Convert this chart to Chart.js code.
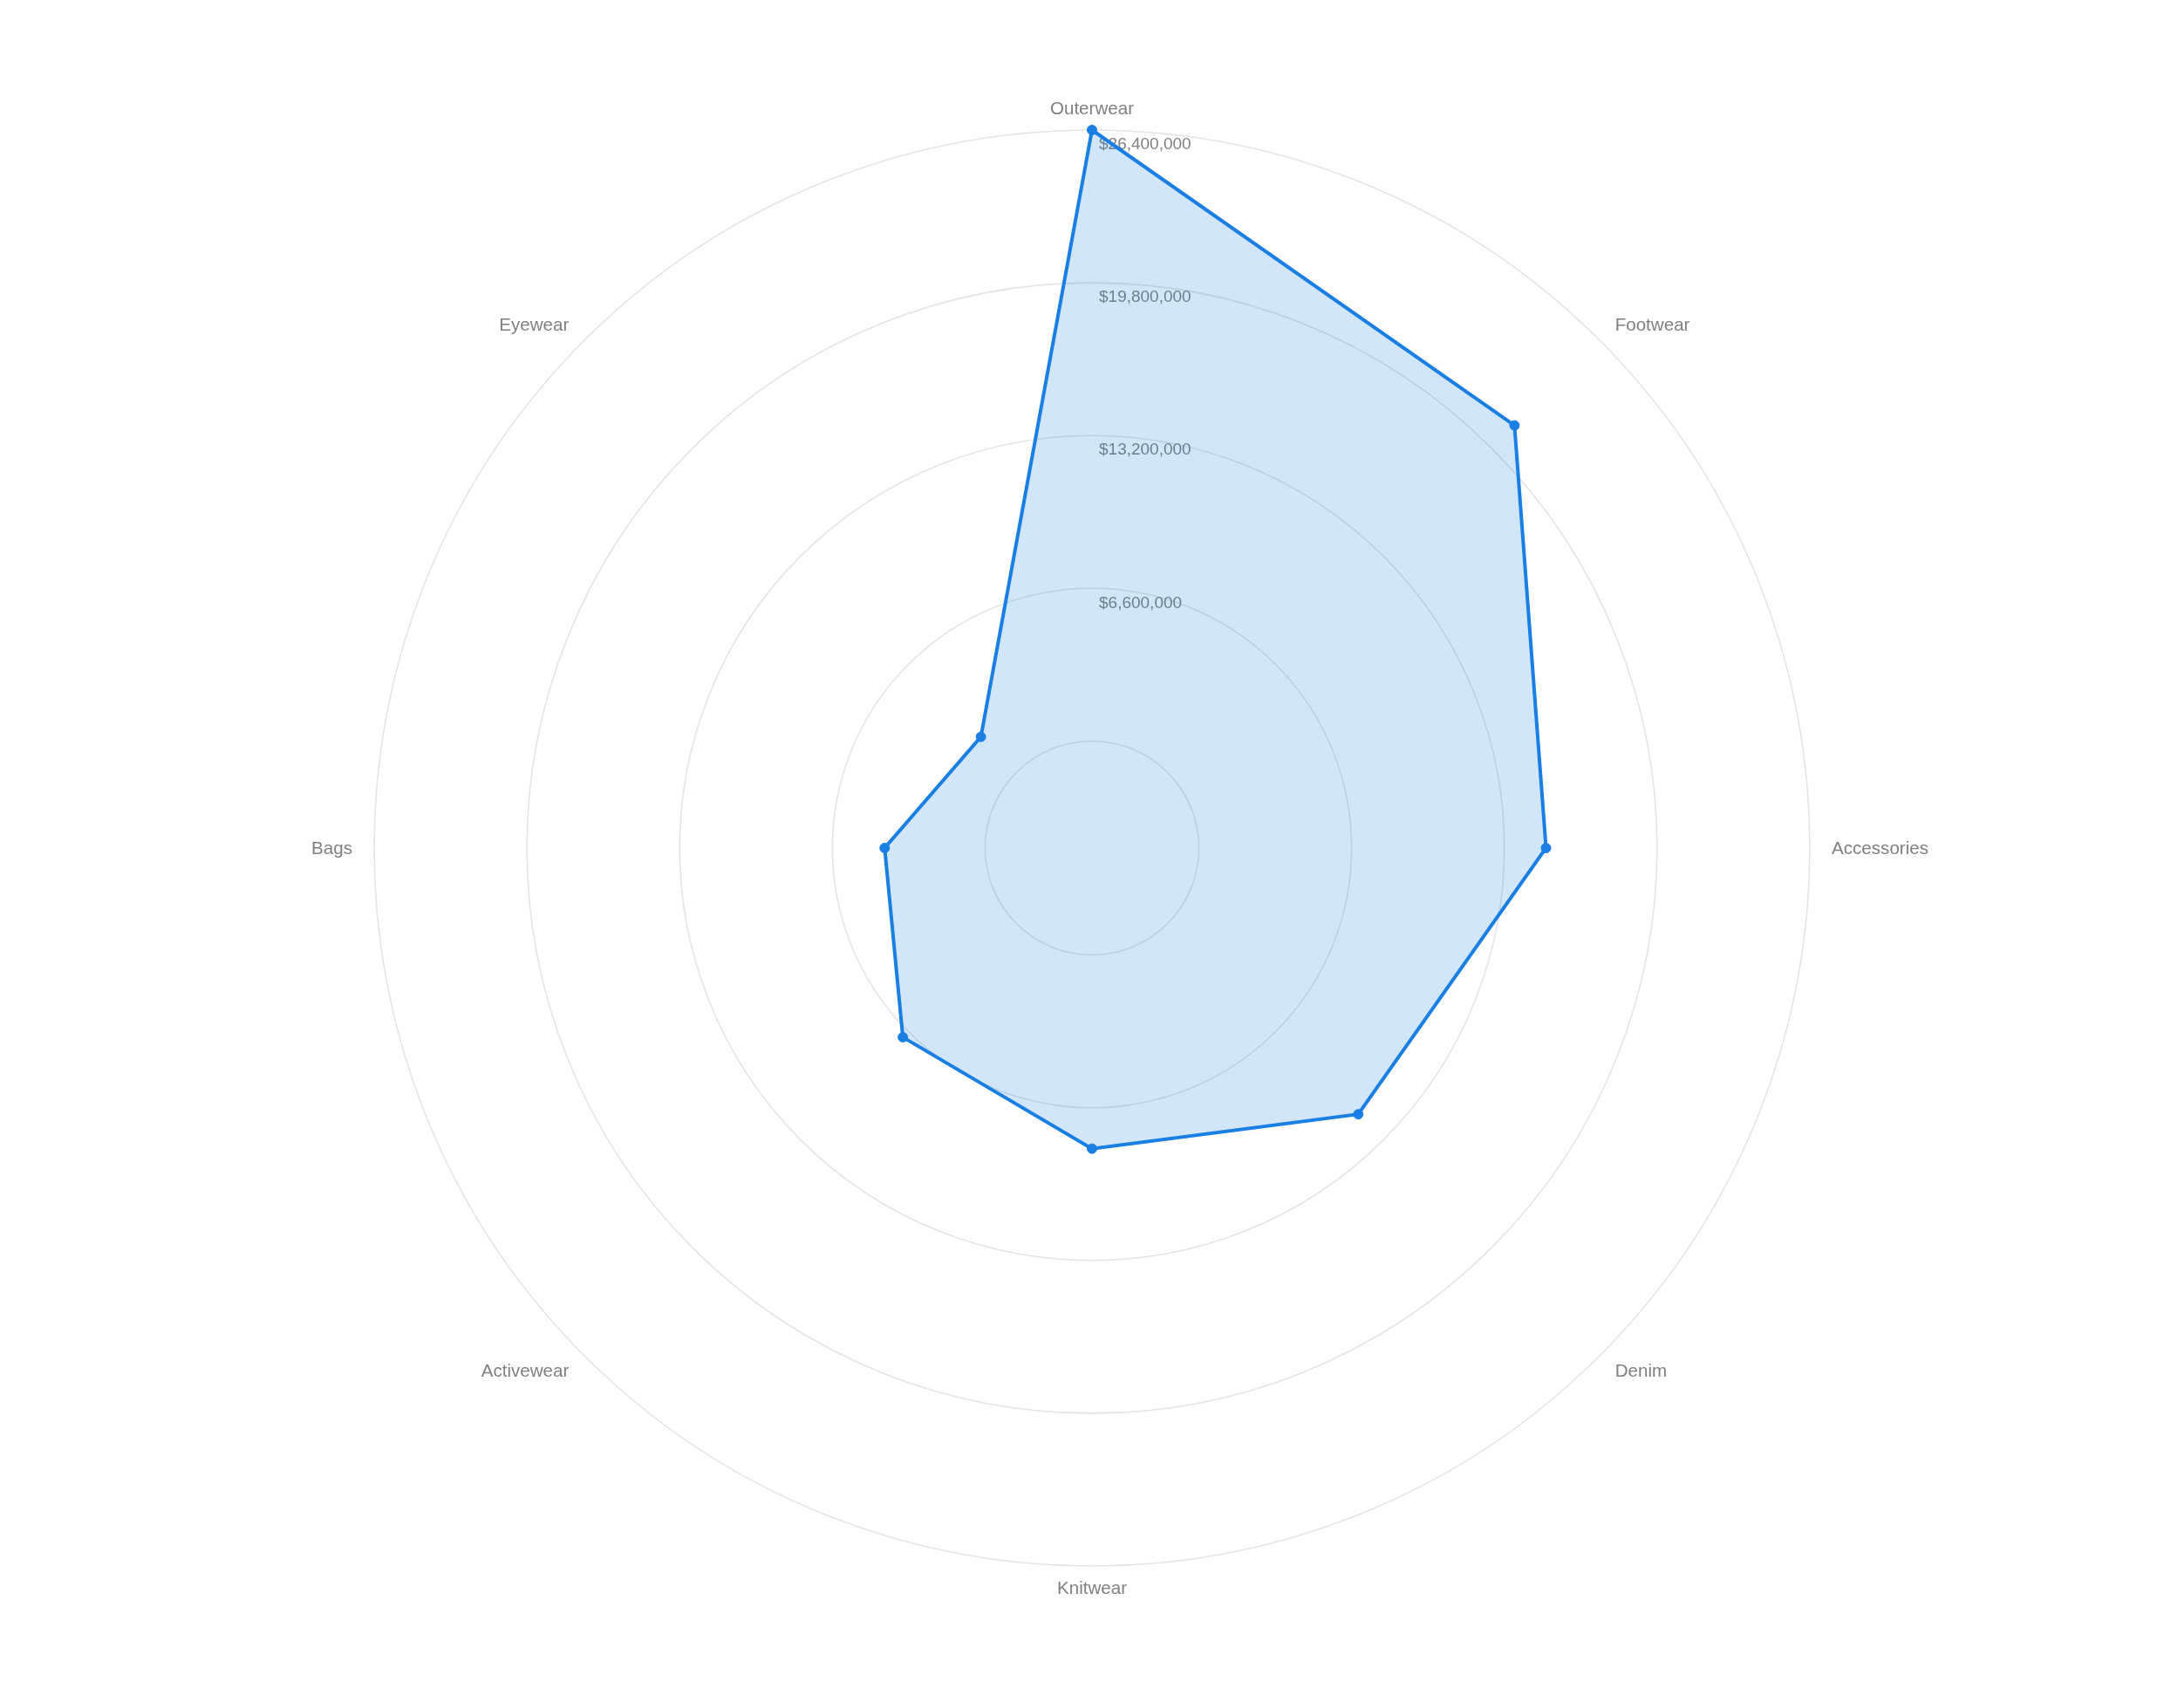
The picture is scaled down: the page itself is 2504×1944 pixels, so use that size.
<!DOCTYPE html>
<html>
<head>
<meta charset="utf-8">
<title>Revenue by category</title>
<script src="https://cdn.jsdelivr.net/npm/chart.js@4"></script>
<style>
  html, body { margin: 0; padding: 0; background: #fff; }
  #wrap { width: 2504px; height: 1944px; }
</style>
</head>
<body>
<div id="wrap"><canvas id="radar" width="2504" height="1944"></canvas></div>
<script>
const categories = ["Outerwear", "Footwear", "Accessories", "Denim", "Knitwear", "Activewear", "Bags", "Eyewear"];
const revenue = [26400000, 21200000, 15000000, 11650000, 8370000, 6940000, 4340000, 2170000];

// radial axis: rings at these values, the centre sits a bit below $0
const tickValues = [0, 6600000, 13200000, 19800000, 26400000];
const scaleMin = -4620000;
const scaleMax = 26400000;

const FONT = "'Liberation Sans', Arial, sans-serif";
const LINE = "#1a7fe5";

const money = v => "$" + Math.round(v).toLocaleString("en-US");

// tick labels sit just right of and below each ring, point labels float outside
const labelPlugin = {
  id: "radarLabels",
  beforeDatasetsDraw(chart) {
    const r = chart.scales.r;
    const ctx = chart.ctx;
    ctx.save();

    ctx.font = "19px " + FONT;
    ctx.fillStyle = "#808080";
    ctx.textAlign = "left";
    ctx.textBaseline = "middle";
    for (const t of r.ticks) {
      if (t.value <= 0) continue;
      const d = r.getDistanceFromCenterForValue(t.value);
      ctx.fillText(money(t.value), r.xCenter + 8, r.yCenter - d + 17);
    }

    ctx.font = "20.6px " + FONT;
    categories.forEach((name, i) => {
      const p = r.getPointPosition(i, r.drawingArea + 25);
      const dx = p.x - r.xCenter;
      ctx.textAlign = Math.abs(dx) < 1 ? "center" : dx > 0 ? "left" : "right";
      ctx.fillText(name, p.x, p.y + 1);
    });

    ctx.restore();
  }
};

new Chart(document.getElementById("radar"), {
  type: "radar",
  data: {
    labels: categories,
    datasets: [{
      label: "Revenue",
      data: revenue,
      borderColor: LINE,
      backgroundColor: "rgba(30, 128, 230, 0.2)",
      borderWidth: 4,
      fill: "start",
      pointRadius: 5.5,
      pointBorderWidth: 1,
      pointBackgroundColor: LINE,
      pointBorderColor: LINE
    }]
  },
  options: {
    responsive: false,
    devicePixelRatio: 1,
    animation: false,
    layout: { padding: { top: 149, bottom: 149, left: 0, right: 0 } },
    plugins: {
      legend: { display: false },
      tooltip: { enabled: false }
    },
    scales: {
      r: {
        min: scaleMin,
        max: scaleMax,
        afterBuildTicks(scale) {
          scale.ticks = [scaleMin, ...tickValues].map(v => ({ value: v }));
        },
        ticks: { display: false },
        grid: { circular: true, color: "#e4e4e4", lineWidth: 1.6 },
        angleLines: { display: false },
        pointLabels: { display: false }
      }
    }
  },
  plugins: [labelPlugin]
});
</script>
</body>
</html>
